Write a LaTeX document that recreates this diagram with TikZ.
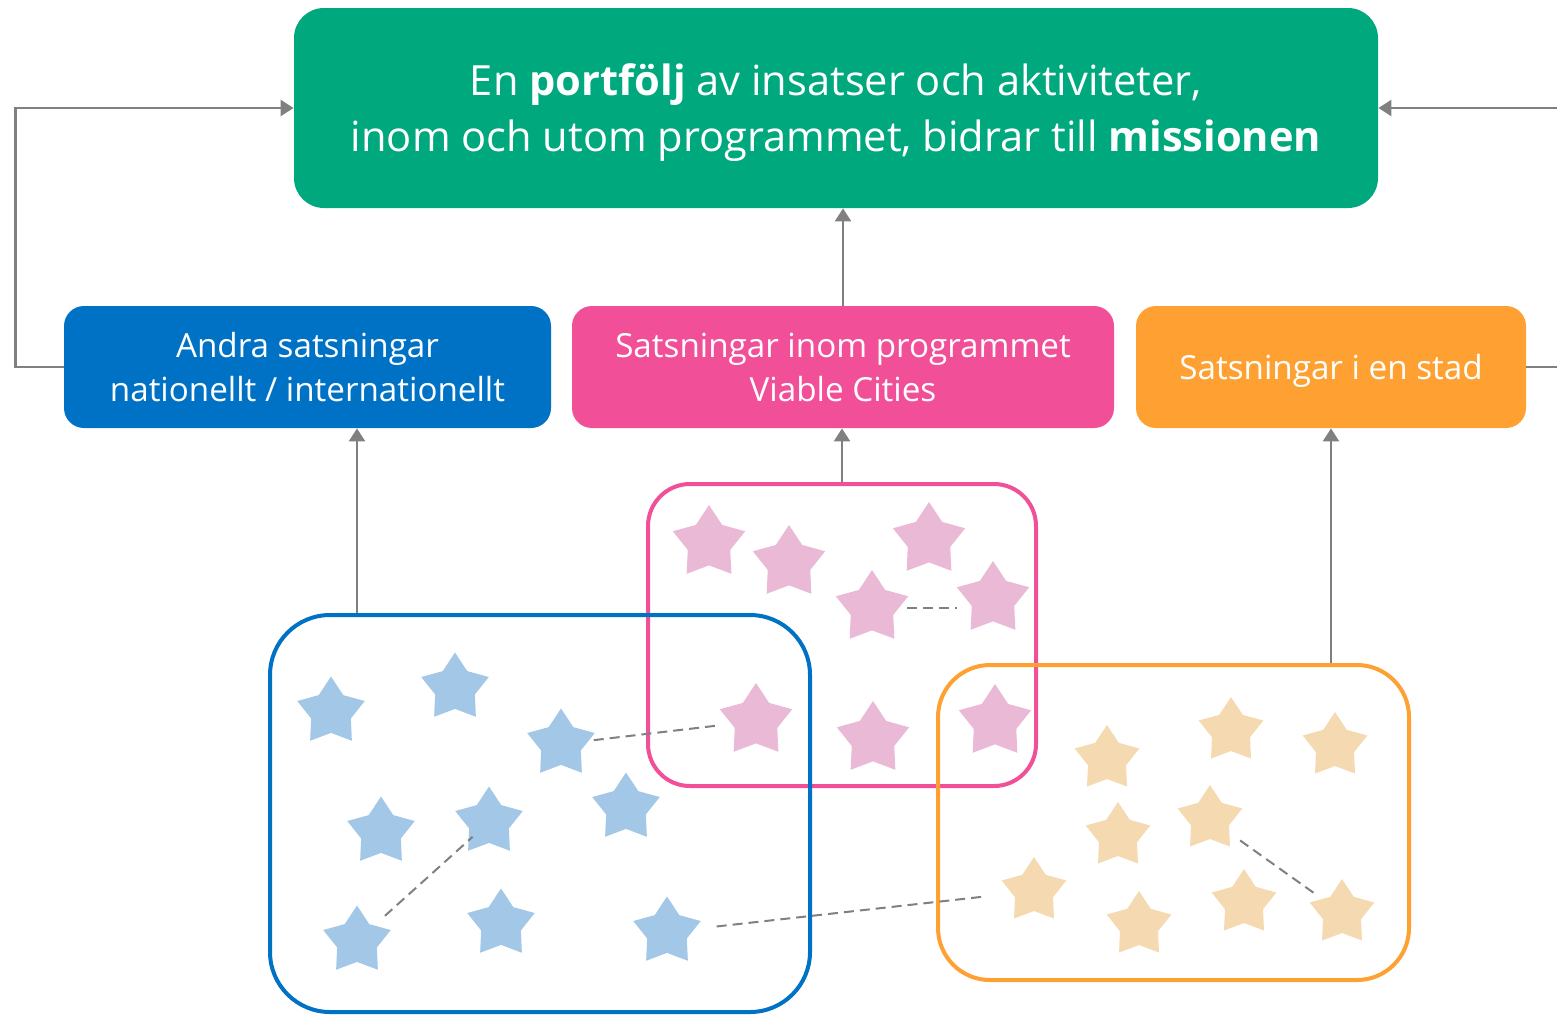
\documentclass[tikz,border=0pt]{standalone}
\usepackage{fontspec}
\setmainfont{Open Sans}
\usepackage{xcolor}
\usetikzlibrary{shapes.geometric,arrows.meta,positioning}

\definecolor{vcgreen}{RGB}{0,168,126}
\definecolor{vcblue}{RGB}{0,114,198}
\definecolor{vcpink}{RGB}{241,79,151}
\definecolor{vcorange}{RGB}{255,161,50}
\definecolor{starblue}{RGB}{162,199,231}
\definecolor{starpink}{RGB}{234,185,213}
\definecolor{starorange}{RGB}{245,218,177}
\definecolor{linegray}{RGB}{128,128,128}

\begin{document}
\begin{tikzpicture}[x=0.5pt, y=-0.5pt,
    box/.style={rectangle, rounded corners=10pt, minimum height=61pt, inner sep=0pt,
        text=white, align=center, font=\fontsize{16.6pt}{22pt}\selectfont},
    frame/.style={rectangle, draw, line width=2pt, inner sep=0pt},
    spark/.style={star, star points=5, star point ratio=1.7, inner sep=0pt, draw=none},
    bstar/.style={spark, fill=starblue, minimum size=35.5pt},
    pstar/.style={spark, fill=starpink, minimum size=38pt},
    ostar/.style={spark, fill=starorange, minimum size=34pt},
    arrow/.style={-{Triangle[length=6.5pt, width=8pt]}, line width=1.25pt, draw=linegray},
    link/.style={draw=linegray, line width=1pt, dash pattern=on 5pt off 3pt}
]
    \useasboundingbox (0,0) rectangle (1557,1014);

    % Top box
    \node[rectangle, rounded corners=15pt, fill=vcgreen, minimum width=542pt, minimum height=100pt, inner sep=0pt,
        label={[text=white, align=center, font=\fontsize{20.8pt}{28pt}\selectfont, yshift=-2.5pt]center:%
        En \textbf{portfölj} av insatser och aktiviteter,\\
        inom och utom programmet, bidrar till \textbf{missionen}}]
        (mission) at (836,108) {};

    % Middle boxes
    \node[box, fill=vcblue, minimum width=243.5pt] (other) at (307.5,367) {Andra satsningar\\nationellt / internationellt};
    \node[box, fill=vcpink, minimum width=271pt] (program) at (843,367) {Satsningar inom programmet\\Viable Cities};
    \node[box, fill=vcorange, minimum width=195pt, text depth=0pt] (city) at (1331,367) {Satsningar i en stad};

    % Frames
    \node[frame, draw=vcpink, rounded corners=21pt, minimum width=194pt, minimum height=151pt] (pframe) at (842,635) {};
    \node[frame, draw=vcblue, rounded corners=30pt, minimum width=270pt, minimum height=198.5pt] (bframe) at (540,813.5) {};
    \node[frame, draw=vcorange, rounded corners=26pt, minimum width=235.5pt, minimum height=157.5pt] (oframe) at (1173.5,822.5) {};

    % Blue stars
    \node[bstar] (b1) at (331,712) {};
    \node[bstar] (b2) at (455,688) {};
    \node[bstar] (b3) at (561,744) {};
    \node[bstar] (b4) at (381,832) {};
    \node[bstar] (b5) at (489,822) {};
    \node[bstar] (b6) at (626,808) {};
    \node[bstar] (b7) at (357,941) {};
    \node[bstar] (b8) at (501,924) {};
    \node[bstar] (b9) at (667,932) {};

    % Pink stars
    \node[pstar] (p1) at (709,543) {};
    \node[pstar] (p2) at (789,563) {};
    \node[pstar] (p3) at (929,540) {};
    \node[pstar] (p4) at (872,608) {};
    \node[pstar] (p5) at (993,599) {};
    \node[pstar] (p6) at (756,721) {};
    \node[pstar] (p7) at (873,739) {};
    \node[pstar] (p8) at (995,722) {};

    % Orange stars
    \node[ostar] (o1) at (1107,759) {};
    \node[ostar] (o2) at (1231,731) {};
    \node[ostar] (o3) at (1335,746) {};
    \node[ostar] (o4) at (1118,836) {};
    \node[ostar] (o5) at (1210,819) {};
    \node[ostar] (o6) at (1034,891) {};
    \node[ostar] (o7) at (1139,925) {};
    \node[ostar] (o8) at (1244,903) {};
    \node[ostar] (o9) at (1342,913) {};

    % Arrows
    \draw[arrow] (other.west) -- ++(-48,0) |- (mission.west);
    \draw[arrow] (city.east) -- ++(45,0) |- (mission.east);
    \draw[arrow] (program.north) -- (program.north |- mission.south);
    \draw[arrow] ([xshift=-91.5pt]bframe.north) -- ([xshift=-91.5pt]bframe.north |- other.south);
    \draw[arrow] (pframe.north) -- (pframe.north |- program.south);
    \draw[arrow] (oframe.north -| city.south) -- (city.south);

    % Links between stars
    \draw[link, shorten <=16.5pt, shorten >=18pt] (b3.center) -- (p6.center);
    \draw[link, shorten <=18.8pt, shorten >=11pt] (b7.center) -- (b5.center);
    \draw[link, shorten <=25pt, shorten >=23.75pt] (b9.center) -- (o6.center);
    \draw[link, shorten <=17.5pt, shorten >=18pt] (p4.center) -- (p4.center -| p5.center);
    \draw[link, shorten <=18.5pt, shorten >=15.5pt] (o5.center) -- (o9.center);
\end{tikzpicture}
\end{document}
